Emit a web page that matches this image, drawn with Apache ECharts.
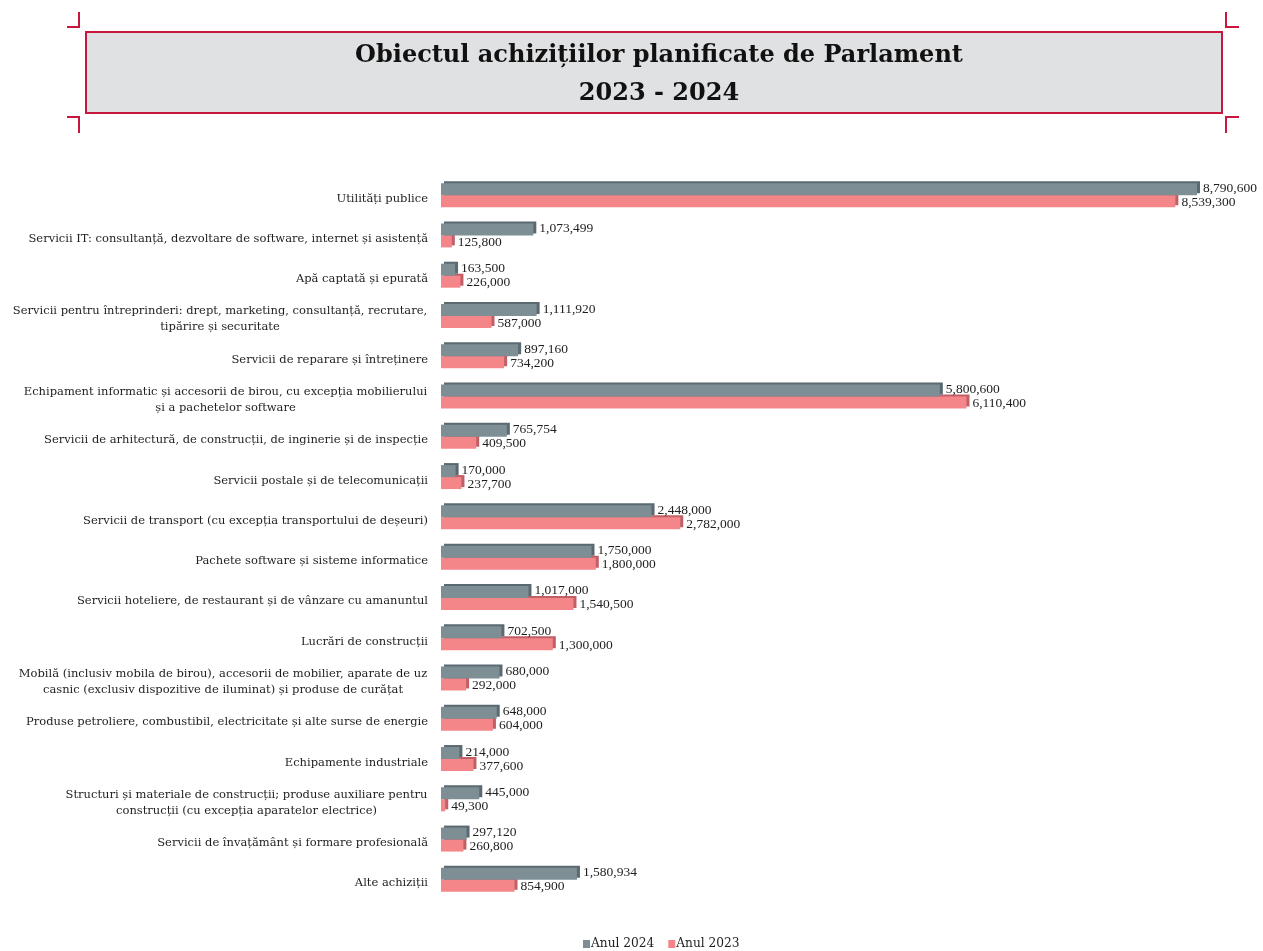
<!DOCTYPE html>
<html>
<head>
<meta charset="utf-8">
<script src="https://cdn.jsdelivr.net/npm/echarts@6/dist/echarts.min.js"></script>
<style>
  html, body { margin: 0; padding: 0; background: #fff; }
  #chart { width: 1263px; height: 951px; }
</style>
</head>
<body>
<div id="chart"></div>
<script>
// Categories of planned procurement, top to bottom
const categories = [
  'Utilități publice',
  'Servicii IT: consultanță, dezvoltare de software, internet și asistență',
  'Apă captată și epurată',
  'Servicii pentru întreprinderi: drept, marketing, consultanță, recrutare,\ntipărire și securitate',
  'Servicii de reparare și întreținere',
  'Echipament informatic și accesorii de birou, cu excepția mobilierului\nși a pachetelor software',
  'Servicii de arhitectură, de construcții, de inginerie și de inspecție',
  'Servicii postale și de telecomunicații',
  'Servicii de transport (cu excepția transportului de deșeuri)',
  'Pachete software și sisteme informatice',
  'Servicii hoteliere, de restaurant și de vânzare cu amanuntul',
  'Lucrări de construcții',
  'Mobilă (inclusiv mobila de birou), accesorii de mobilier, aparate de uz\ncasnic (exclusiv dispozitive de iluminat) și produse de curățat',
  'Produse petroliere, combustibil, electricitate și alte surse de energie',
  'Echipamente industriale',
  'Structuri și materiale de construcții; produse auxiliare pentru\nconstrucții (cu excepția aparatelor electrice)',
  'Servicii de învațământ și formare profesională',
  'Alte achiziții'
];

const values2024 = [8790600, 1073499, 163500, 1111920, 897160, 5800600, 765754, 170000,
  2448000, 1750000, 1017000, 702500, 680000, 648000, 214000, 445000, 297120, 1580934];

const values2023 = [8539300, 125800, 226000, 587000, 734200, 6110400, 409500, 237700,
  2782000, 1800000, 1540500, 1300000, 292000, 604000, 377600, 49300, 260800, 854900];

const seriesNames = ['Anul 2024', 'Anul 2023'];

const SERIF = '"DejaVu Serif", "Liberation Serif", serif';
const NUM_FONT = '"Liberation Serif", "DejaVu Serif", serif';
const CAT_SIZE = 11.5;
const TEXT_COLOR = '#1e1e1e';
const fmt = v => v.toLocaleString('en-US');

// Wrapped category labels: each gets its own rich style whose width is the
// widest of its lines, so the lines are centred on each other while the
// whole block stays right-aligned against the bars.
const ctx = document.createElement('canvas').getContext('2d');
ctx.font = CAT_SIZE + 'px ' + SERIF;
const richStyles = {};
const wrapKey = {};
categories.forEach((c, i) => {
  const lines = c.split('\n');
  if (lines.length > 1) {
    const key = 'w' + i;
    wrapKey[c] = key;
    richStyles[key] = {
      fontFamily: SERIF,
      fontSize: CAT_SIZE,
      lineHeight: 16,
      color: TEXT_COLOR,
      width: Math.ceil(Math.max(...lines.map(l => ctx.measureText(l).width))) + 1,
      align: 'center'
    };
  }
});

const chart = echarts.init(document.getElementById('chart'), null, { renderer: 'canvas' });

// Red corner marks around the title panel
const RED = '#c8163f';
function mark(points) {
  return { type: 'polyline', shape: { points }, style: { stroke: RED, lineWidth: 2, fill: null }, silent: true };
}

chart.setOption({
  animation: false,
  backgroundColor: '#ffffff',
  title: {
    text: 'Obiectul achizițiilor planificate de Parlament\n2023 - 2024',
    left: 654,
    top: 32,
    textAlign: 'center',
    textStyle: {
      fontFamily: SERIF,
      fontWeight: 'bold',
      fontSize: 24,
      lineHeight: 38,
      color: '#111'
    }
  },
  graphic: [
    {
      type: 'rect', z: -1, silent: true,
      shape: { x: 86, y: 32, width: 1136, height: 81 },
      style: { fill: '#e0e1e3', stroke: RED, lineWidth: 2 }
    },
    mark([[67, 27], [79, 27], [79, 12]]),
    mark([[67, 117], [79, 117], [79, 133]]),
    mark([[1226, 12], [1226, 27], [1239, 27]]),
    mark([[1226, 133], [1226, 117], [1239, 117]])
  ],
  legend: {
    data: seriesNames,
    top: 933,
    left: 578,
    itemWidth: 7,
    itemHeight: 8,
    itemGap: 14,
    icon: 'rect',
    textStyle: { fontFamily: SERIF, fontSize: 12.2, color: TEXT_COLOR, padding: [0, 0, 0, -4] }
  },
  grid: { left: 441, right: 48, top: 175, bottom: 51, containLabel: false, outerBoundsMode: 'none' },
  xAxis: {
    type: 'value',
    min: 0,
    max: 9000000,
    show: false
  },
  yAxis: {
    type: 'category',
    data: categories,
    inverse: true,
    axisLine: { show: false },
    axisTick: { show: false },
    axisLabel: {
      fontFamily: SERIF,
      fontSize: CAT_SIZE,
      lineHeight: 16,
      color: TEXT_COLOR,
      margin: 13,
      align: 'right',
      padding: [7, 0, 0, 0],
      formatter: value => {
        const key = wrapKey[value];
        if (!key) return value;
        return value.split('\n').map(l => '{' + key + '|' + l + '}').join('\n');
      },
      rich: richStyles
    }
  },
  series: [
    {
      name: seriesNames[0],
      type: 'bar',
      data: values2024,
      barWidth: 12,
      barGap: '0%',
      z: 3,
      itemStyle: {
        color: '#7d8e94',
        shadowColor: '#5b6a70',
        shadowBlur: 0,
        shadowOffsetX: 3,
        shadowOffsetY: -2
      },
      label: {
        show: true,
        position: 'right',
        distance: 6,
        offset: [0, -1],
        formatter: p => fmt(p.value),
        fontFamily: NUM_FONT,
        fontSize: 13.5,
        color: TEXT_COLOR
      }
    },
    {
      name: seriesNames[1],
      type: 'bar',
      data: values2023,
      barWidth: 12,
      barGap: '0%',
      z: 2,
      itemStyle: {
        color: '#f4868a',
        shadowColor: '#c05f66',
        shadowBlur: 0,
        shadowOffsetX: 3,
        shadowOffsetY: -2
      },
      label: {
        show: true,
        position: 'right',
        distance: 6,
        offset: [0, 1],
        formatter: p => fmt(p.value),
        fontFamily: NUM_FONT,
        fontSize: 13.5,
        color: TEXT_COLOR
      }
    }
  ]
});
</script>
</body>
</html>
